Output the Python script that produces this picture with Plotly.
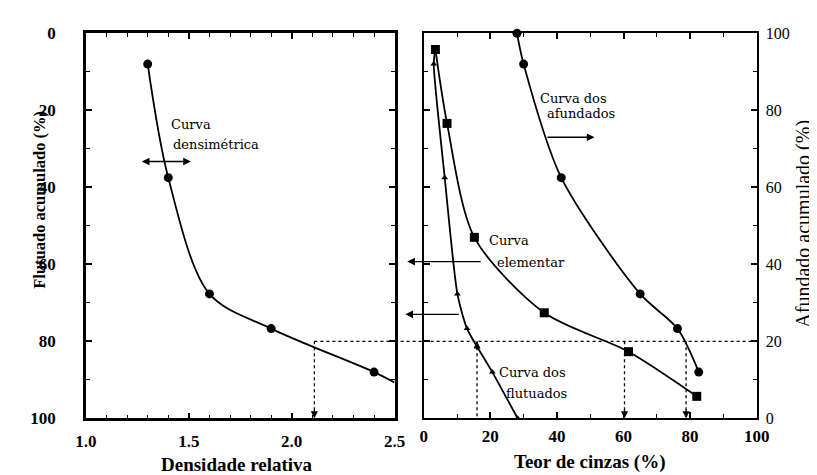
import plotly.graph_objects as go

W, H = 817, 475

# ---- data ----
densidade = [1.3, 1.4, 1.6, 1.9, 2.4]
flut_acum = [8, 37.5, 67.7, 76.7, 88]
dens_end_x = [2.5]
dens_end_y = [90.7]

afund_cinzas = [28, 30, 41.3, 65, 76.2, 82.6]
afund_acum = [100, 92, 62.5, 32.3, 23.3, 12]

elem_cinzas = [3.5, 7, 15.2, 36.2, 61.5, 82]
elem_flut = [4.2, 23.4, 53, 72.6, 82.7, 94.3]

flut_start_x = [3.5]
flut_start_y = [4]
flut_cinzas = [3.0, 6.3, 10.1, 13.0, 20.6, 28.2]
flut_flut = [8, 37.5, 67.7, 76.7, 88, 100]

corte_flut = 80
corte_dens = 2.11
corte_cinzas_flut = 16
corte_cinzas_elem = 60.3
corte_cinzas_afund = 78.8

# ---- layout geometry ----
XL = [69 / W, 387 / W]
XR = [417 / W, 760 / W]
YD = [1 - 418 / H, 1 - 17 / H]

SERIF = "Liberation Serif"
ANN = "DejaVu Serif"
BLACK = "#000000"

fig = go.Figure()

def curve(x, y, xa, ya, smoothing):
    fig.add_trace(go.Scatter(x=x, y=y, xaxis=xa, yaxis=ya, mode="lines",
                             line=dict(color=BLACK, width=1.8, shape="spline", smoothing=smoothing),
                             showlegend=False, cliponaxis=False, hoverinfo="skip"))

def marks(x, y, xa, ya, symbol, size):
    fig.add_trace(go.Scatter(x=x, y=y, xaxis=xa, yaxis=ya, mode="markers",
                             marker=dict(symbol=symbol, size=size, color=BLACK, opacity=1,
                                         line=dict(width=0)),
                             showlegend=False, cliponaxis=False))

curve(densidade + dens_end_x, flut_acum + dens_end_y, "x", "y", 0.9)
marks(densidade, flut_acum, "x", "y", "circle", 9)

curve(afund_cinzas, afund_acum, "x2", "y2", 0.8)
marks(afund_cinzas, afund_acum, "x2", "y2", "circle", 9)

curve(elem_cinzas, elem_flut, "x2", "y3", 0.8)
marks(elem_cinzas, elem_flut, "x2", "y3", "square", 9)

curve(flut_start_x + flut_cinzas, flut_start_y + flut_flut, "x2", "y3", 0.6)
marks(flut_cinzas, flut_flut, "x2", "y3", "triangle-up", 6)

dash = dict(color=BLACK, width=1.3, dash="3px,3px")

# vertical dashed lines
fig.add_trace(go.Scatter(x=[corte_dens, corte_dens], y=[corte_flut, 100], xaxis="x", yaxis="y",
                         mode="lines", line=dash, showlegend=False, hoverinfo="skip"))
for xv in [corte_cinzas_flut, corte_cinzas_elem, corte_cinzas_afund]:
    fig.add_trace(go.Scatter(x=[xv, xv], y=[corte_flut, 100], xaxis="x2", yaxis="y3",
                             mode="lines", line=dash, showlegend=False, hoverinfo="skip"))

shapes = [
    dict(type="line", xref="x", yref="y", x0=corte_dens, x1=2.5, y0=corte_flut, y1=corte_flut, line=dash),
    dict(type="line", xref="paper", yref="y", x0=XL[1], x1=XR[1] + 2 / W, y0=corte_flut, y1=corte_flut, line=dash),
]

ann = []

def arrow_head(xref, yref, x, y, ay):
    ann.append(dict(xref=xref, yref=yref, x=x, y=y, ax=0, ay=ay, text="", showarrow=True,
                    arrowhead=2, arrowsize=1.1, arrowwidth=1.3, arrowcolor=BLACK, standoff=0))

arrow_head("x", "y", corte_dens, 100, -10)
arrow_head("x2", "y3", corte_cinzas_elem, 100, -10)
arrow_head("x2", "y3", corte_cinzas_afund, 100, -10)
arrow_head("x2", "y3", corte_cinzas_flut, corte_flut, 10)

# double arrow (curva densimetrica)
ann.append(dict(xref="x", yref="y", x=1.51, y=33.3, axref="x", ayref="y", ax=1.264, ay=33.3,
                text="", showarrow=True, arrowhead=2, arrowside="end+start", arrowsize=1.1,
                arrowwidth=1.4, arrowcolor=BLACK, standoff=0, startstandoff=0))
# arrow to the right (afundados)
ann.append(dict(xref="x2", yref="y2", x=51.3, y=73, axref="x2", ayref="y2", ax=36.7, ay=73,
                text="", showarrow=True, arrowhead=2, arrowsize=1.1, arrowwidth=1.4,
                arrowcolor=BLACK, standoff=0))
# arrows to the left (flutuado axis)
ann.append(dict(xref="paper", yref="y", x=400 / W, y=59.3, ax=75, ay=0, text="", showarrow=True,
                arrowhead=2, arrowsize=1.1, arrowwidth=1.4, arrowcolor=BLACK, standoff=0))
ann.append(dict(xref="paper", yref="y", x=398 / W, y=73, ax=55, ay=0, text="", showarrow=True,
                arrowhead=2, arrowsize=1.1, arrowwidth=1.4, arrowcolor=BLACK, standoff=0))

def label(xref, yref, x, y, text):
    ann.append(dict(xref=xref, yref=yref, x=x, y=y, text=text, showarrow=False, xanchor="left",
                    yanchor="middle", font=dict(family=ANN, size=13, color=BLACK)))

label("x", "y", 1.405, 23.7, "Curva")
label("x", "y", 1.415, 28.9, "densimétrica")
label("x2", "y2", 34.4, 83, "Curva dos")
label("x2", "y2", 36.4, 79.3, "afundados")
label("x2", "y3", 19, 53.9, "Curva")
label("x2", "y3", 21.3, 59.6, "elementar")
label("x2", "y3", 21.9, 88, "Curva dos")
label("x2", "y3", 24.2, 93.5, "flutuados")

# axis titles
def title(x, y, text, size, bold, angle=0):
    f = dict(family=SERIF, size=size, color=BLACK)
    if bold:
        f["weight"] = "bold"
    ann.append(dict(xref="paper", yref="paper", x=x, y=y, text=text, showarrow=False,
                    xanchor="center", yanchor="middle", textangle=angle, font=f))

title(225 / W, 1 - 466 / H, "Densidade relativa", 19, True)
title(588 / W, 1 - 464 / H, "Teor de cinzas (%)", 19, True)
title(21 / W, 1 - 190 / H, "Flutuado acumulado (%)", 16.5, True, -90)
title(808 / W, 1 - 215 / H, "Afundado acumulado (%)", 20, False, -90)

tick_bold = dict(family=SERIF, size=17, color=BLACK, weight="bold")
tick_reg = dict(family=SERIF, size=16, color=BLACK)

common = dict(showgrid=False, zeroline=False, showline=True, linecolor=BLACK, ticks="inside",
              tickcolor=BLACK, tickwidth=1.5, ticklen=6)
minor = dict(dtick=10, ticks="inside", ticklen=4, tickwidth=1.2, tickcolor=BLACK)

fig.update_layout(
    width=W, height=H, margin=dict(l=0, r=0, t=0, b=0),
    paper_bgcolor="white", plot_bgcolor="white", showlegend=False,
    xaxis=dict(domain=XL, range=[1.0, 2.5], anchor="y", tick0=1, dtick=0.5, tickformat=".1f",
               linewidth=2.5, mirror="ticks", tickfont=tick_bold, ticklabelstandoff=6,
               minor=dict(minor, dtick=0.1), **common),
    yaxis=dict(domain=YD, range=[100, 0], anchor="x", dtick=20, linewidth=2.5, mirror="ticks",
               tickfont=tick_bold, ticklabelstandoff=24, minor=minor, **common),
    xaxis2=dict(domain=XR, range=[0, 100], anchor="y2", dtick=20, linewidth=2, mirror="ticks",
                tickfont=dict(family=SERIF, size=17, color=BLACK, weight="bold"), ticklabelstandoff=1,
                minor=minor, **common),
    yaxis2=dict(domain=YD, range=[0, 100], anchor="x2", side="right", dtick=20, linewidth=2,
                tickfont=tick_reg, ticklabelstandoff=4, minor=minor, **common),
    yaxis3=dict(range=[100, 0], anchor="x2", overlaying="y2", side="left", dtick=20, linewidth=2,
                showticklabels=False, minor=minor, **common),
    shapes=shapes, annotations=ann,
)

fig.write_html("out.html")
